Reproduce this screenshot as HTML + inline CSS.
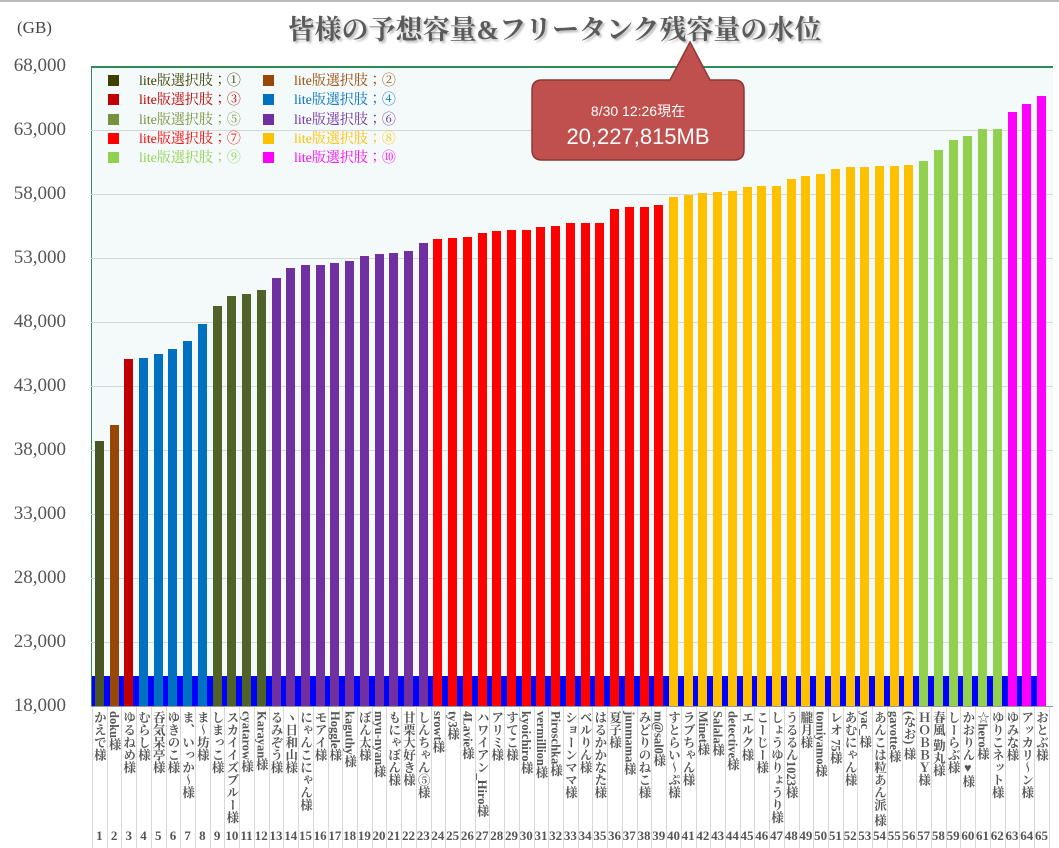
<!DOCTYPE html>
<html><head><meta charset="utf-8">
<style>
body{margin:0;width:1059px;height:848px;background:#fff;position:relative;overflow:hidden;font-family:"Liberation Serif","Noto Serif CJK SC",serif}
.abs{position:absolute}
.yl{position:absolute;left:2px;width:64px;text-align:right;font-size:19px;color:#555;line-height:20px}
.nm{position:absolute;top:711px;writing-mode:vertical-rl;font-size:12.5px;font-weight:bold;color:#555;line-height:14px;white-space:nowrap;font-family:"Liberation Serif","Noto Serif CJK JP",serif}
.num{position:absolute;top:828px;font-size:13px;font-weight:bold;color:#555;text-align:center;width:15px}
.sep{position:absolute;top:706px;height:142px;width:1px;background:#d8d8d8}
.bar{position:absolute;width:9px}
.lg{position:absolute;font-size:14px;line-height:16px;white-space:nowrap;font-family:"Liberation Serif","Noto Serif CJK JP",serif}
.lg i{display:inline-block;width:11px;height:11px;margin-right:20px;vertical-align:-1px}
</style></head><body>
<div class="abs" style="left:0;top:0;width:1059px;height:2px;background:#bbb"></div>
<div class="abs" style="left:17px;top:18px;font-size:17px;color:#444">(GB)</div>
<div class="abs" style="left:0;top:8px;width:1059px;text-align:center;font-size:27px;font-weight:bold;color:#5a5a5a;text-shadow:2px 2px 2px #bbb;font-family:'Liberation Serif','Noto Serif CJK JP',serif;padding-left:50px;box-sizing:border-box">皆様の予想容量&amp;フリータンク残容量の水位</div>
<div class="abs" style="left:91px;top:66px;width:962px;height:640px;background:#f4fafa;border-top:2px solid #2e8b57;border-left:1px solid #2e8b57;box-sizing:border-box"></div>
<div id="c"></div>
<div class="lg" style="left:108px;top:72px;line-height:19.3px">
<div><span style="color:#3f3f00"><i style="background:#3f3f00"></i>lite版選択肢；①</span> <span style="color:#974806;position:absolute;left:155px"><i style="background:#974806"></i>lite版選択肢；②</span></div>
<div><span style="color:#c00000"><i style="background:#c00000"></i>lite版選択肢；③</span> <span style="color:#0070c0;position:absolute;left:155px"><i style="background:#0070c0"></i>lite版選択肢；④</span></div>
<div><span style="color:#76923c"><i style="background:#76923c"></i>lite版選択肢；⑤</span> <span style="color:#7030a0;position:absolute;left:155px"><i style="background:#7030a0"></i>lite版選択肢；⑥</span></div>
<div><span style="color:#ff0000"><i style="background:#ff0000"></i>lite版選択肢；⑦</span> <span style="color:#ffc000;position:absolute;left:155px"><i style="background:#ffc000"></i>lite版選択肢；⑧</span></div>
<div><span style="color:#92d050"><i style="background:#92d050"></i>lite版選択肢；⑨</span> <span style="color:#ff00ff;position:absolute;left:155px"><i style="background:#ff00ff"></i>lite版選択肢；⑩</span></div>
</div>
<svg class="abs" style="left:530px;top:40px" width="220" height="124">
<path d="M12 40 H140 L160 2 L180 40 H204 Q214 40 214 50 V110 Q214 120 204 120 H12 Q2 120 2 110 V50 Q2 40 12 40Z" fill="#c0504d" stroke="#8c3836" stroke-width="1.5"/>
<text x="108" y="76" fill="#fff" font-size="14" text-anchor="middle" font-family="Liberation Sans,Noto Sans CJK JP,sans-serif">8/30 12:26現在</text>
<text x="108" y="104" fill="#fff" font-size="22" text-anchor="middle" font-family="Liberation Sans,sans-serif">20,227,815MB</text>
</svg>
<script>
var tops=[441,425,359,358,354,349,341,324,306,296,294,290,278,268,265,265,263,261,256,254,253,251,243,239,238,237,233,231,230,230,227,226,223,223,223,209,207,207,205,197,195,193,192,191,187,186,186,179,176,174,169,167,167,166,166,165,161,150,140,136,129,129,112,104,96];
var names="かえで様,doku様,ゆるねめ様,むらし様,吞気呆亭様,ゆきのこ様,ま、いっか～様,ま～坊様,しまっこ様,スカイイズブルー様,cyatarow様,Karayan様,るみぞう様,ヽ日和山様,にゃんこにゃん様,モアイ様,Hoggle様,kaguthy様,ぼん太様,myu-nyan様,もにゃぼん様,甘栗大好き様,しんちゃん⑤様,srowt様,ty3様,4Lavie様,ハワイアン_Hiro様,アリミ様,すてこ様,kyoichiro様,vermillion様,Piroschka様,ショーンママ様,ベルりん様,はるかかなた様,夏子様,junmama様,みどりのねこ様,m@sal0様,すとらい～ぷ様,ラブちゃん様,Minet様,Salala様,detective様,エルク様,こーじー様,しょうゆりょうり様,うるるん1023様,朧月様,tomiyamo様,レオ 75様,あむにゃん様,yac_様,あんこは粒あん派 様,gavotte様,(なお) 様,ＨＯＢＢＹ様,春風 勤丸様,しーらぶ様,かおりん♥様,☆hero様,ゆりこネット様,ゆみな様,アッカリ～ン様,おとぶ様".split(",");
function col(i){i++;if(i==1)return"#4a5523";if(i==2)return"#974806";if(i==3)return"#c00000";if(i<=8)return"#0070c0";if(i<=12)return"#4f6228";if(i<=23)return"#7030a0";if(i<=39)return"#ff0000";if(i<=56)return"#ffc000";if(i<=62)return"#92d050";return"#ff00ff";}
var h="";
for(var v=0;v<=10;v++){var y=66+v*64;h+='<div class="abs" style="left:91px;top:'+y+'px;width:962px;height:1px;background:'+(v==0?'#2e8b57':'#d0d8d8')+'"></div>';
h+='<div class="yl" style="top:'+(y-10)+'px">'+(68000-v*5000).toLocaleString("en-US")+'</div>';}
h+='<div class="abs" style="left:92px;top:676px;width:948px;height:30px;background:#0000ff"></div>';
var x0=92,w=14.72;
for(var i=0;i<65;i++){var cx=x0+w*i+w/2;
h+='<div class="bar" style="left:'+(cx-4.5)+'px;top:'+tops[i]+'px;height:'+(706-tops[i])+'px;background:'+col(i)+'"></div>';
h+='<div class="sep" style="left:'+(x0+w*i)+'px"></div>';
h+='<div class="nm" style="left:'+(cx-7)+'px">'+names[i]+'</div>';
h+='<div class="num" style="left:'+(cx-7.5)+'px">'+(i+1)+'</div>';}
h+='<div class="sep" style="left:'+(x0+w*65)+'px"></div>';
h+='<div class="abs" style="left:91px;top:706px;width:962px;height:1px;background:#999"></div>';
document.getElementById("c").innerHTML=h;
</script>
</body></html>
